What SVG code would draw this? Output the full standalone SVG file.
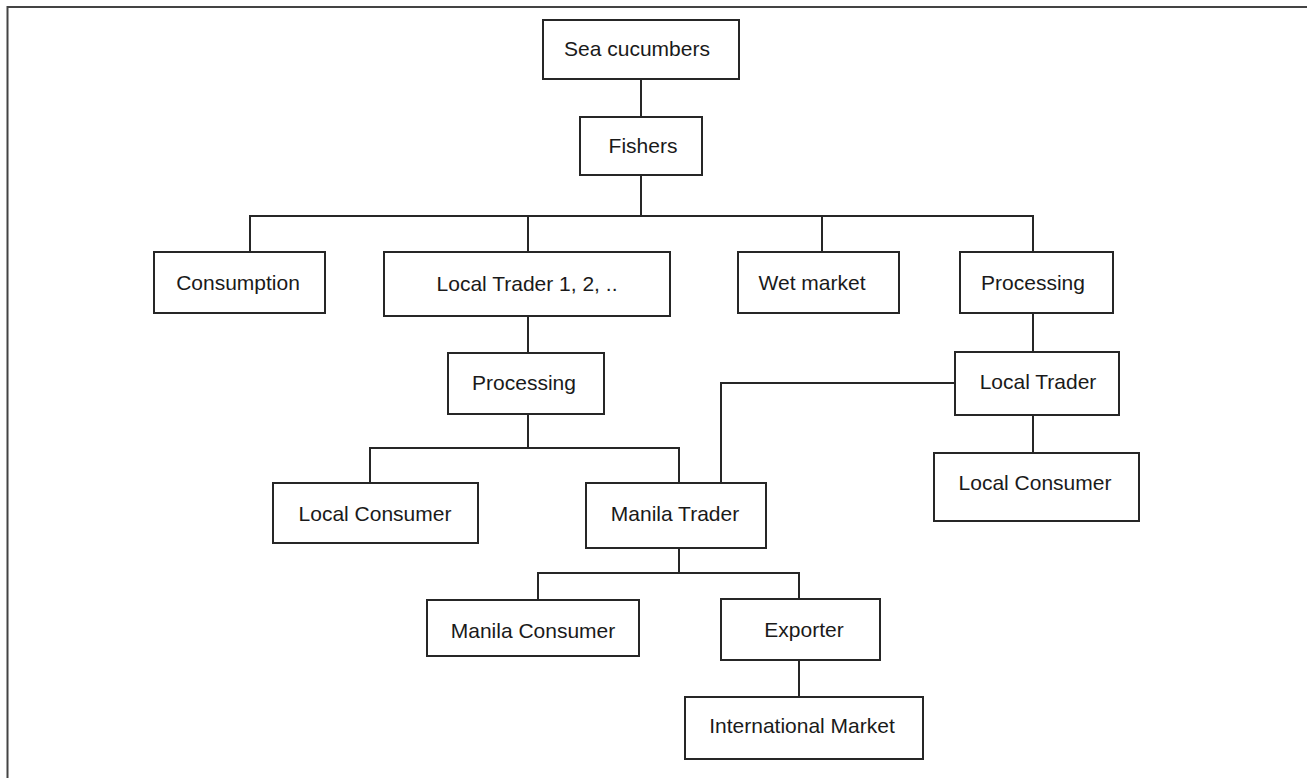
<svg xmlns="http://www.w3.org/2000/svg" width="1307" height="778" viewBox="0 0 1307 778">
<style>
.box{fill:#fff;stroke:#262626;stroke-width:2}
.lbl{font-family:"Liberation Sans",Arial,sans-serif;font-size:21px;fill:#1a1a1a;text-anchor:middle}
.con{fill:none;stroke:#262626;stroke-width:2}
</style>
<rect x="0" y="0" width="1307" height="778" fill="#fff"/>
<path d="M7.5,790 V7 H1320" fill="none" stroke="#444" stroke-width="2"/>
<g id="connectors">
<path class="con" d="M641,79 V117"/>
<path class="con" d="M641,175 V216"/>
<path class="con" d="M250,252 V216 H1033 V252"/>
<path class="con" d="M528,216 V252"/>
<path class="con" d="M822,216 V252"/>
<path class="con" d="M528,316 V353"/>
<path class="con" d="M528,414 V448"/>
<path class="con" d="M370,483 V448 H679 V483"/>
<path class="con" d="M1033,313 V352"/>
<path class="con" d="M955,383 H721 V483"/>
<path class="con" d="M1033,415 V453"/>
<path class="con" d="M679,548 V573"/>
<path class="con" d="M538,600 V573 H799 V599"/>
<path class="con" d="M799,660 V697"/>
</g>
<g id="sea-cucumbers"><rect class="box" x="543" y="20" width="196" height="59"/><text class="lbl" x="637" y="56">Sea cucumbers</text></g>
<g id="fishers"><rect class="box" x="580" y="117" width="122" height="58"/><text class="lbl" x="643" y="153">Fishers</text></g>
<g id="consumption"><rect class="box" x="154" y="252" width="171" height="61"/><text class="lbl" x="238" y="290">Consumption</text></g>
<g id="local-trader-12"><rect class="box" x="384" y="252" width="286" height="64"/><text class="lbl" x="527" y="291">Local Trader 1, 2, ..</text></g>
<g id="wet-market"><rect class="box" x="738" y="252" width="161" height="61"/><text class="lbl" x="812" y="290">Wet market</text></g>
<g id="processing-right"><rect class="box" x="960" y="252" width="153" height="61"/><text class="lbl" x="1033" y="290">Processing</text></g>
<g id="processing-mid"><rect class="box" x="448" y="353" width="156" height="61"/><text class="lbl" x="524" y="390">Processing</text></g>
<g id="local-trader"><rect class="box" x="955" y="352" width="164" height="63"/><text class="lbl" x="1038" y="389">Local Trader</text></g>
<g id="local-consumer-left"><rect class="box" x="273" y="483" width="205" height="60"/><text class="lbl" x="375" y="521">Local Consumer</text></g>
<g id="manila-trader"><rect class="box" x="586" y="483" width="180" height="65"/><text class="lbl" x="675" y="521">Manila Trader</text></g>
<g id="local-consumer-right"><rect class="box" x="934" y="453" width="205" height="68"/><text class="lbl" x="1035" y="490">Local Consumer</text></g>
<g id="manila-consumer"><rect class="box" x="427" y="600" width="212" height="56"/><text class="lbl" x="533" y="638">Manila Consumer</text></g>
<g id="exporter"><rect class="box" x="721" y="599" width="159" height="61"/><text class="lbl" x="804" y="637">Exporter</text></g>
<g id="international-market"><rect class="box" x="685" y="697" width="238" height="62"/><text class="lbl" x="802" y="733">International Market</text></g>
</svg>
